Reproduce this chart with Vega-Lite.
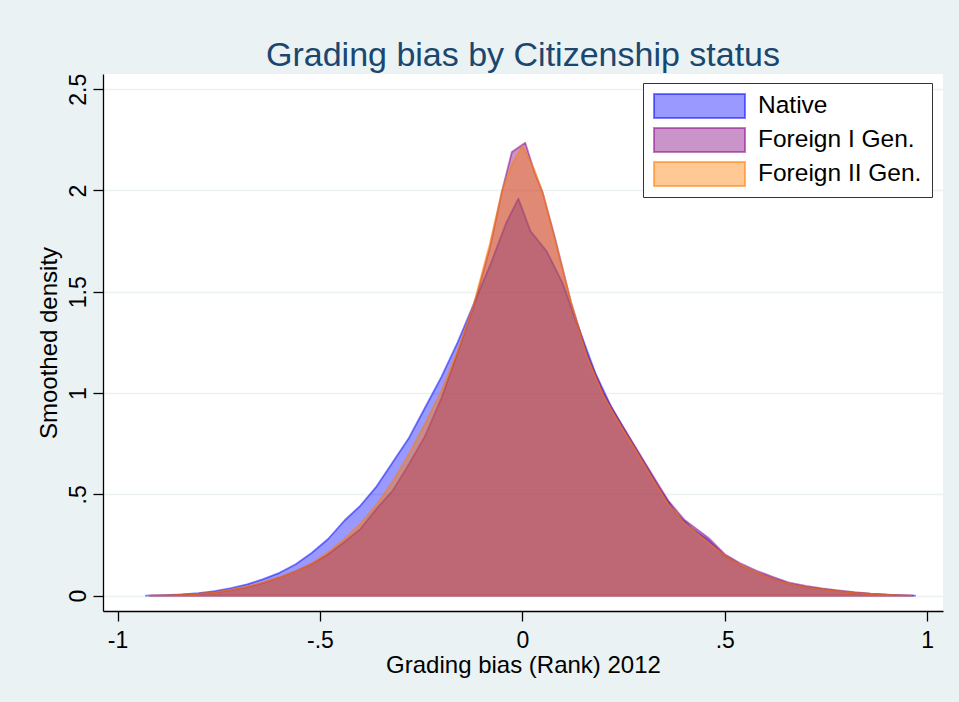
{
  "$schema": "https://vega.github.io/schema/vega-lite/v6.json",
  "width": 840,
  "height": 537,
  "autosize": {"type": "none"},
  "padding": {"left": 103, "top": 74, "right": 16, "bottom": 91},
  "background": "#EAF2F3",
  "title": {
    "text": "Grading bias by Citizenship status",
    "font": "Liberation Sans",
    "fontSize": 34,
    "fontWeight": "normal",
    "color": "#1A476F",
    "anchor": "middle",
    "frame": "group",
    "baseline": "alphabetic",
    "offset": -27
  },
  "config": {
    "view": {"fill": "white", "stroke": null},
    "axis": {
      "labelFont": "Liberation Sans",
      "titleFont": "Liberation Sans",
      "labelColor": "#000000",
      "titleColor": "#000000",
      "labelFontSize": 23,
      "titleFontSize": 24,
      "titleFontWeight": "normal",
      "domainColor": "#000000",
      "domainWidth": 1.3,
      "tickColor": "#000000",
      "tickWidth": 1.3,
      "tickSize": 10
    }
  },
  "data": {
    "values": [
      {"g": "Native", "x": -0.93, "y": 0},
      {"g": "Native", "x": -0.88, "y": 0.003},
      {"g": "Native", "x": -0.84, "y": 0.007},
      {"g": "Native", "x": -0.80, "y": 0.013},
      {"g": "Native", "x": -0.76, "y": 0.023},
      {"g": "Native", "x": -0.72, "y": 0.037},
      {"g": "Native", "x": -0.68, "y": 0.056},
      {"g": "Native", "x": -0.64, "y": 0.082},
      {"g": "Native", "x": -0.60, "y": 0.113},
      {"g": "Native", "x": -0.56, "y": 0.155},
      {"g": "Native", "x": -0.52, "y": 0.212},
      {"g": "Native", "x": -0.48, "y": 0.28},
      {"g": "Native", "x": -0.44, "y": 0.37},
      {"g": "Native", "x": -0.40, "y": 0.445},
      {"g": "Native", "x": -0.36, "y": 0.54},
      {"g": "Native", "x": -0.32, "y": 0.66},
      {"g": "Native", "x": -0.28, "y": 0.78},
      {"g": "Native", "x": -0.24, "y": 0.93},
      {"g": "Native", "x": -0.20, "y": 1.08},
      {"g": "Native", "x": -0.16, "y": 1.25},
      {"g": "Native", "x": -0.12, "y": 1.44},
      {"g": "Native", "x": -0.08, "y": 1.63},
      {"g": "Native", "x": -0.04, "y": 1.84},
      {"g": "Native", "x": -0.01, "y": 1.96},
      {"g": "Native", "x": 0.02, "y": 1.80},
      {"g": "Native", "x": 0.06, "y": 1.70},
      {"g": "Native", "x": 0.10, "y": 1.54},
      {"g": "Native", "x": 0.13, "y": 1.37},
      {"g": "Native", "x": 0.18, "y": 1.10},
      {"g": "Native", "x": 0.22, "y": 0.93},
      {"g": "Native", "x": 0.26, "y": 0.795},
      {"g": "Native", "x": 0.30, "y": 0.66},
      {"g": "Native", "x": 0.34, "y": 0.525},
      {"g": "Native", "x": 0.38, "y": 0.405},
      {"g": "Native", "x": 0.42, "y": 0.33},
      {"g": "Native", "x": 0.46, "y": 0.272},
      {"g": "Native", "x": 0.50, "y": 0.198},
      {"g": "Native", "x": 0.54, "y": 0.148},
      {"g": "Native", "x": 0.58, "y": 0.112},
      {"g": "Native", "x": 0.62, "y": 0.083},
      {"g": "Native", "x": 0.66, "y": 0.058},
      {"g": "Native", "x": 0.70, "y": 0.043},
      {"g": "Native", "x": 0.74, "y": 0.032},
      {"g": "Native", "x": 0.78, "y": 0.023},
      {"g": "Native", "x": 0.82, "y": 0.015},
      {"g": "Native", "x": 0.86, "y": 0.009},
      {"g": "Native", "x": 0.90, "y": 0.005},
      {"g": "Native", "x": 0.94, "y": 0.002},
      {"g": "Native", "x": 0.97, "y": 0},
      {"g": "Foreign I Gen.", "x": -0.92, "y": 0},
      {"g": "Foreign I Gen.", "x": -0.88, "y": 0.002},
      {"g": "Foreign I Gen.", "x": -0.84, "y": 0.005},
      {"g": "Foreign I Gen.", "x": -0.80, "y": 0.009},
      {"g": "Foreign I Gen.", "x": -0.76, "y": 0.016},
      {"g": "Foreign I Gen.", "x": -0.72, "y": 0.027},
      {"g": "Foreign I Gen.", "x": -0.68, "y": 0.042},
      {"g": "Foreign I Gen.", "x": -0.64, "y": 0.063},
      {"g": "Foreign I Gen.", "x": -0.60, "y": 0.09},
      {"g": "Foreign I Gen.", "x": -0.56, "y": 0.12},
      {"g": "Foreign I Gen.", "x": -0.52, "y": 0.158},
      {"g": "Foreign I Gen.", "x": -0.48, "y": 0.205},
      {"g": "Foreign I Gen.", "x": -0.44, "y": 0.265},
      {"g": "Foreign I Gen.", "x": -0.40, "y": 0.33},
      {"g": "Foreign I Gen.", "x": -0.36, "y": 0.43},
      {"g": "Foreign I Gen.", "x": -0.32, "y": 0.52},
      {"g": "Foreign I Gen.", "x": -0.28, "y": 0.65},
      {"g": "Foreign I Gen.", "x": -0.24, "y": 0.79},
      {"g": "Foreign I Gen.", "x": -0.20, "y": 0.975},
      {"g": "Foreign I Gen.", "x": -0.16, "y": 1.20},
      {"g": "Foreign I Gen.", "x": -0.12, "y": 1.43},
      {"g": "Foreign I Gen.", "x": -0.08, "y": 1.72},
      {"g": "Foreign I Gen.", "x": -0.05, "y": 2.0},
      {"g": "Foreign I Gen.", "x": -0.026, "y": 2.19},
      {"g": "Foreign I Gen.", "x": 0.007, "y": 2.236},
      {"g": "Foreign I Gen.", "x": 0.03, "y": 2.09},
      {"g": "Foreign I Gen.", "x": 0.05, "y": 1.99},
      {"g": "Foreign I Gen.", "x": 0.08, "y": 1.77},
      {"g": "Foreign I Gen.", "x": 0.12, "y": 1.45},
      {"g": "Foreign I Gen.", "x": 0.16, "y": 1.19},
      {"g": "Foreign I Gen.", "x": 0.20, "y": 1.0},
      {"g": "Foreign I Gen.", "x": 0.24, "y": 0.86},
      {"g": "Foreign I Gen.", "x": 0.28, "y": 0.73},
      {"g": "Foreign I Gen.", "x": 0.32, "y": 0.60},
      {"g": "Foreign I Gen.", "x": 0.36, "y": 0.47},
      {"g": "Foreign I Gen.", "x": 0.40, "y": 0.375},
      {"g": "Foreign I Gen.", "x": 0.44, "y": 0.315},
      {"g": "Foreign I Gen.", "x": 0.46, "y": 0.285},
      {"g": "Foreign I Gen.", "x": 0.50, "y": 0.205},
      {"g": "Foreign I Gen.", "x": 0.54, "y": 0.158},
      {"g": "Foreign I Gen.", "x": 0.58, "y": 0.122},
      {"g": "Foreign I Gen.", "x": 0.62, "y": 0.092},
      {"g": "Foreign I Gen.", "x": 0.66, "y": 0.064},
      {"g": "Foreign I Gen.", "x": 0.70, "y": 0.048},
      {"g": "Foreign I Gen.", "x": 0.74, "y": 0.036},
      {"g": "Foreign I Gen.", "x": 0.78, "y": 0.026},
      {"g": "Foreign I Gen.", "x": 0.82, "y": 0.017},
      {"g": "Foreign I Gen.", "x": 0.86, "y": 0.01},
      {"g": "Foreign I Gen.", "x": 0.90, "y": 0.005},
      {"g": "Foreign I Gen.", "x": 0.965, "y": 0},
      {"g": "Foreign II Gen.", "x": -0.92, "y": 0},
      {"g": "Foreign II Gen.", "x": -0.88, "y": 0.002},
      {"g": "Foreign II Gen.", "x": -0.84, "y": 0.005},
      {"g": "Foreign II Gen.", "x": -0.80, "y": 0.01},
      {"g": "Foreign II Gen.", "x": -0.76, "y": 0.018},
      {"g": "Foreign II Gen.", "x": -0.72, "y": 0.03},
      {"g": "Foreign II Gen.", "x": -0.68, "y": 0.046},
      {"g": "Foreign II Gen.", "x": -0.64, "y": 0.067},
      {"g": "Foreign II Gen.", "x": -0.60, "y": 0.092},
      {"g": "Foreign II Gen.", "x": -0.56, "y": 0.12},
      {"g": "Foreign II Gen.", "x": -0.52, "y": 0.16},
      {"g": "Foreign II Gen.", "x": -0.48, "y": 0.215},
      {"g": "Foreign II Gen.", "x": -0.44, "y": 0.28},
      {"g": "Foreign II Gen.", "x": -0.40, "y": 0.355},
      {"g": "Foreign II Gen.", "x": -0.36, "y": 0.45},
      {"g": "Foreign II Gen.", "x": -0.32, "y": 0.565},
      {"g": "Foreign II Gen.", "x": -0.28, "y": 0.70},
      {"g": "Foreign II Gen.", "x": -0.24, "y": 0.85},
      {"g": "Foreign II Gen.", "x": -0.20, "y": 1.01},
      {"g": "Foreign II Gen.", "x": -0.16, "y": 1.21},
      {"g": "Foreign II Gen.", "x": -0.12, "y": 1.44},
      {"g": "Foreign II Gen.", "x": -0.08, "y": 1.74},
      {"g": "Foreign II Gen.", "x": -0.05, "y": 2.0},
      {"g": "Foreign II Gen.", "x": -0.025, "y": 2.13},
      {"g": "Foreign II Gen.", "x": 0.0, "y": 2.22},
      {"g": "Foreign II Gen.", "x": 0.03, "y": 2.10},
      {"g": "Foreign II Gen.", "x": 0.05, "y": 1.99},
      {"g": "Foreign II Gen.", "x": 0.085, "y": 1.72},
      {"g": "Foreign II Gen.", "x": 0.12, "y": 1.45},
      {"g": "Foreign II Gen.", "x": 0.16, "y": 1.18},
      {"g": "Foreign II Gen.", "x": 0.20, "y": 0.99},
      {"g": "Foreign II Gen.", "x": 0.24, "y": 0.85},
      {"g": "Foreign II Gen.", "x": 0.28, "y": 0.72},
      {"g": "Foreign II Gen.", "x": 0.32, "y": 0.585},
      {"g": "Foreign II Gen.", "x": 0.36, "y": 0.455},
      {"g": "Foreign II Gen.", "x": 0.40, "y": 0.36},
      {"g": "Foreign II Gen.", "x": 0.44, "y": 0.295},
      {"g": "Foreign II Gen.", "x": 0.48, "y": 0.23},
      {"g": "Foreign II Gen.", "x": 0.52, "y": 0.172},
      {"g": "Foreign II Gen.", "x": 0.56, "y": 0.13},
      {"g": "Foreign II Gen.", "x": 0.60, "y": 0.097},
      {"g": "Foreign II Gen.", "x": 0.64, "y": 0.07},
      {"g": "Foreign II Gen.", "x": 0.68, "y": 0.05},
      {"g": "Foreign II Gen.", "x": 0.72, "y": 0.037},
      {"g": "Foreign II Gen.", "x": 0.76, "y": 0.027},
      {"g": "Foreign II Gen.", "x": 0.80, "y": 0.019},
      {"g": "Foreign II Gen.", "x": 0.84, "y": 0.012},
      {"g": "Foreign II Gen.", "x": 0.88, "y": 0.007},
      {"g": "Foreign II Gen.", "x": 0.92, "y": 0.003},
      {"g": "Foreign II Gen.", "x": 0.96, "y": 0}
    ]
  },
  "encoding": {
    "x": {
      "field": "x",
      "type": "quantitative",
      "scale": {"domain": [-1.036, 1.039], "nice": false, "zero": false},
      "axis": {
        "title": "Grading bias (Rank) 2012",
        "values": [-1, -0.5, 0, 0.5, 1],
        "labelExpr": "datum.value == -1 ? '-1' : datum.value == -0.5 ? '-.5' : datum.value == 0 ? '0' : datum.value == 0.5 ? '.5' : '1'",
        "labelBaseline": "alphabetic",
        "labelPadding": 26,
        "labelFlush": false,
        "grid": false,
        "titleBaseline": "alphabetic",
        "titleY": 61
      }
    },
    "y": {
      "field": "y",
      "type": "quantitative",
      "stack": null,
      "scale": {"domain": [-0.0755, 2.575], "nice": false, "zero": false},
      "axis": {
        "title": "Smoothed density",
        "values": [0, 0.5, 1, 1.5, 2, 2.5],
        "labelExpr": "datum.value == 0 ? '0' : datum.value == 0.5 ? '.5' : datum.value == 1 ? '1' : datum.value == 1.5 ? '1.5' : datum.value == 2 ? '2' : '2.5'",
        "labelAngle": -90,
        "labelAlign": "center",
        "labelBaseline": "alphabetic",
        "labelPadding": 8,
        "grid": true,
        "gridColor": "#EAF2F3",
        "gridWidth": 1.5,
        "titleAngle": -90,
        "titleBaseline": "alphabetic",
        "titleX": -46.3,
        "titleY": 268.5
      }
    },
    "color": {
      "field": "g",
      "type": "nominal",
      "scale": {
        "domain": ["Native", "Foreign I Gen.", "Foreign II Gen."],
        "range": ["rgba(0,0,255,0.4)", "rgba(128,0,128,0.42)", "rgba(255,125,0,0.42)"]
      },
      "legend": {
        "orient": "none",
        "legendX": 540,
        "legendY": 9,
        "title": null,
        "fillColor": "white",
        "strokeColor": "#333333",
        "padding": 10,
        "cornerRadius": 0,
        "labelFont": "Liberation Sans",
        "labelFontSize": 24.5,
        "labelColor": "#000000",
        "labelOffset": 12,
        "labelLimit": 400,
        "symbolType": "M-1,-0.264H1V0.264H-1Z",
        "symbolSize": 8281,
        "symbolStrokeWidth": 2,
        "clipHeight": 26,
        "rowPadding": 8,
        "encode": {
          "legend": {"update": {"strokeWidth": {"value": 2}}}
        }
      }
    },
    "stroke": {
      "field": "g",
      "type": "nominal",
      "scale": {
        "domain": ["Native", "Foreign I Gen.", "Foreign II Gen."],
        "range": ["rgba(0,0,255,0.5)", "rgba(128,0,128,0.5)", "rgba(255,125,0,0.55)"]
      },
      "legend": {
        "orient": "none",
        "legendX": 540,
        "legendY": 9,
        "title": null,
        "fillColor": "white",
        "strokeColor": "#333333",
        "padding": 10,
        "cornerRadius": 0,
        "labelFont": "Liberation Sans",
        "labelFontSize": 24.5,
        "labelColor": "#000000",
        "labelOffset": 12,
        "labelLimit": 400,
        "symbolType": "M-1,-0.264H1V0.264H-1Z",
        "symbolSize": 8281,
        "symbolStrokeWidth": 2,
        "clipHeight": 26,
        "rowPadding": 8,
        "encode": {
          "legend": {"update": {"strokeWidth": {"value": 2}}}
        }
      }
    }
  },
  "layer": [
    {
      "transform": [{"filter": "datum.g == 'Native'"}],
      "mark": {"type": "area", "opacity": 1, "strokeWidth": 1.8, "strokeJoin": "round"}
    },
    {
      "transform": [{"filter": "datum.g == 'Foreign I Gen.'"}],
      "mark": {"type": "area", "opacity": 1, "strokeWidth": 1.8, "strokeJoin": "round"}
    },
    {
      "transform": [{"filter": "datum.g == 'Foreign II Gen.'"}],
      "mark": {"type": "area", "opacity": 1, "strokeWidth": 1.8, "strokeJoin": "round"}
    }
  ]
}
